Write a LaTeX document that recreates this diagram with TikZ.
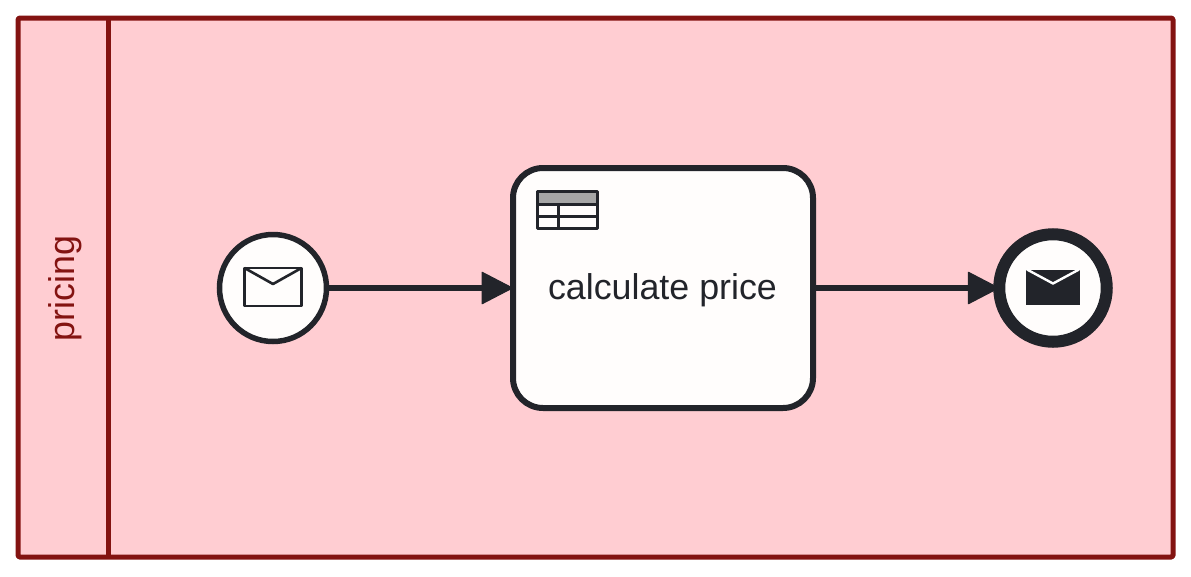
\documentclass[tikz,border=0pt]{standalone}
\usepackage{fontspec}
\setmainfont{Liberation Sans}
\usetikzlibrary{arrows.meta}
\definecolor{lanefill}{HTML}{FFCDD2}
\definecolor{laneline}{HTML}{831311}
\definecolor{ink}{HTML}{22242A}
\definecolor{paper}{HTML}{FFFDFC}
\definecolor{headgray}{HTML}{A6A6A6}
\tikzset{
  every node/.style={inner sep=0pt,outer sep=0pt},
  lanebox/.style={draw=laneline,fill=lanefill,line width=5pt,rounded corners=1.5pt,line join=round},
  lanelabel/.style={text=laneline,font=\fontsize{35.8pt}{36pt}\selectfont},
  taskbox/.style={draw=ink,fill=paper,line width=6pt,rounded corners=30pt,minimum width=300pt,minimum height=240pt},
  tasklabel/.style={text=ink,font=\fontsize{35.8pt}{36pt}\selectfont},
  startev/.style={circle,draw=ink,fill=paper,line width=5.5pt,minimum size=107pt},
  endev/.style={circle,draw=ink,fill=paper,line width=12pt,minimum size=107.5pt},
  flow/.style={draw=ink,line width=6pt,-{Triangle[length=32pt,width=33pt,round,line width=1pt]}},
  iconline/.style={draw=ink,line width=2.6pt,line join=round},
}
\begin{document}
\begin{tikzpicture}[x=1pt,y=-1pt]
\useasboundingbox (0,0) rectangle (1191,576);
\fill[white] (0,0) rectangle (1191,576);
% lane
\draw[lanebox] (18,18) rectangle (1173,557);
\draw[lanebox,fill=none,rounded corners=0pt] (108,18) -- (108,557);
\node[lanelabel,rotate=90] (lanename) at (65.5,288.5) {pricing};
% nodes
\node[startev] (start) at (273,288) {};
\node[taskbox] (task) at (663,288) {};
\node[endev] (end) at (1053,288) {};
\node[tasklabel] (tasktext) at (662.5,290) {calculate price};
% connectors
\draw[flow] (start.east) -- (task.west);
\draw[flow] (task.east) -- (end.west);
% table marker
\fill[headgray] (537,191.5) rectangle (597.5,204);
\draw[draw=ink,line width=3pt,line join=round] (537,191.5) rectangle (597.5,228);
\draw[draw=ink,line width=3pt] (537,204.5) -- (597.5,204.5) (537,216.5) -- (597.5,216.5) (558,204.5) -- (558,228);
% start envelope
\draw[iconline] (244.5,268) rectangle (301.5,306);
\draw[iconline] (244.5,268) -- (273,284) -- (301.5,268);
% end envelope
\fill[ink] (1026,269.5) rectangle (1079.7,304.7);
\draw[draw=white,line width=2.4pt,line join=miter] (1027,269.5) -- (1053,283.5) -- (1079,269.5);
\end{tikzpicture}
\end{document}
